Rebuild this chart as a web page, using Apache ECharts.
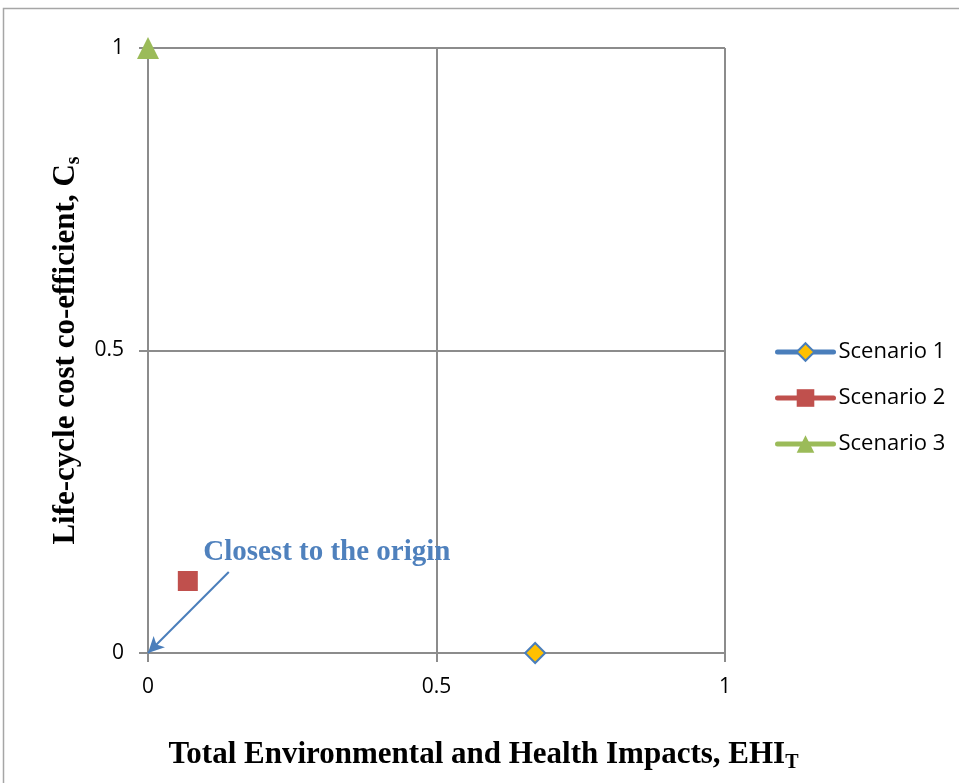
<!DOCTYPE html>
<html>
<head>
<meta charset="utf-8">
<script src="https://cdn.jsdelivr.net/npm/echarts@6/dist/echarts.min.js"></script>
<style>
html, body { margin: 0; padding: 0; background: #fff; overflow: hidden; }
#chart { width: 959px; height: 783px; }
</style>
</head>
<body>
<div id="chart"></div>
<script>
// 数据
var seriesNames = ['Scenario 1', 'Scenario 2', 'Scenario 3'];
var scenario1 = [[0.671, 0]];
var scenario2 = [[0.069, 0.119]];
var scenario3 = [[0, 1]];
var arrowFrom = [0.14, 0.134];
var arrowTo = [0, 0];
var axisTicks = [0, 0.5, 1];

var myChart = echarts.init(document.getElementById('chart'));

var gridColor = '#8c8c8c';
var labelFont = '"Open Sans", "Liberation Sans", sans-serif';
var titleFont = '"Liberation Serif", "DejaVu Serif", serif';

function axisBase() {
    return {
        type: 'value',
        min: axisTicks[0],
        max: axisTicks[axisTicks.length - 1],
        interval: axisTicks[1] - axisTicks[0],
        axisLine: { show: true, lineStyle: { color: gridColor, width: 2 } },
        axisTick: { show: true, length: 9, lineStyle: { color: gridColor, width: 2 } },
        splitLine: { show: true, lineStyle: { color: gridColor, width: 2 } },
        axisLabel: {
            color: '#000',
            fontFamily: labelFont,
            fontSize: 21,
            formatter: function (v) { return String(v); }
        }
    };
}

var xAxis = axisBase();
xAxis.axisLabel.margin = 24;
xAxis.name = '{t|Total Environmental and Health Impacts, EHI}{s|T}';
xAxis.nameLocation = 'middle';
xAxis.nameGap = 84;
xAxis.nameTextStyle = {
    padding: [0, 0, 0, 94],
    rich: {
        t: { fontFamily: titleFont, fontWeight: 'bold', fontSize: 31, color: '#000' },
        s: { fontFamily: titleFont, fontWeight: 'bold', fontSize: 20, color: '#000', padding: [16, 0, 0, 0] }
    }
};

var yAxis = axisBase();
yAxis.axisLabel.margin = 24;
yAxis.name = '{t|Life-cycle cost co-efficient, C}{s|s}';
yAxis.nameLocation = 'middle';
yAxis.nameRotate = 90;
yAxis.nameGap = 64;
yAxis.nameTextStyle = {
    rich: {
        t: { fontFamily: titleFont, fontWeight: 'bold', fontSize: 31, color: '#000' },
        s: { fontFamily: titleFont, fontWeight: 'bold', fontSize: 20, color: '#000', padding: [16, 0, 0, 0] }
    }
};

var option = {
    animation: false,
    backgroundColor: '#fff',
    grid: { left: 148, right: 234, top: 48, bottom: 130, outerBoundsMode: 'none', containLabel: false },
    graphic: [{
        type: 'rect',
        shape: { x: 3.5, y: 8.5, width: 1000, height: 1000 },
        style: { fill: 'none', stroke: '#a6a6a6', lineWidth: 1.5 },
        silent: true
    }],
    legend: {
        orient: 'vertical',
        left: 770,
        top: 336,
        itemGap: 24,
        itemWidth: 56,
        itemHeight: 22,
        data: seriesNames,
        lineStyle: { width: 5, cap: 'round' },
        textStyle: { fontFamily: labelFont, fontSize: 22, color: '#000' }
    },
    xAxis: xAxis,
    yAxis: yAxis,
    series: [{
        name: seriesNames[0],
        type: 'line',
        data: scenario1,
        symbol: 'diamond',
        symbolSize: 20,
        clip: false,
        lineStyle: { color: '#4a7ebb', width: 5 },
        itemStyle: { color: '#ffc000', borderColor: '#4a7ebb', borderWidth: 2 },
        markLine: {
            silent: true,
            symbol: ['none', 'arrow'],
            symbolSize: [12, 16],
            label: { show: false },
            lineStyle: { color: '#4a7ebb', width: 2, type: 'solid' },
            data: [[{ coord: arrowFrom }, { coord: arrowTo }]]
        }
    }, {
        name: seriesNames[1],
        type: 'line',
        data: scenario2,
        symbol: 'rect',
        symbolSize: 20,
        clip: false,
        lineStyle: { color: '#c0504d', width: 5 },
        itemStyle: { color: '#c0504d', borderColor: '#c0504d', borderWidth: 0 },
        markPoint: {
            silent: true,
            symbol: 'rect',
            symbolSize: 0,
            data: [{
                coord: [0.087, 0.166],
                label: {
                    show: true,
                    position: 'right',
                    formatter: 'Closest to the origin',
                    fontFamily: titleFont,
                    fontWeight: 'bold',
                    fontSize: 29,
                    color: '#4f81bd'
                }
            }]
        }
    }, {
        name: seriesNames[2],
        type: 'line',
        data: scenario3,
        symbol: 'triangle',
        symbolSize: 22,
        clip: false,
        lineStyle: { color: '#9bbb59', width: 5 },
        itemStyle: { color: '#9bbb59', borderColor: '#9bbb59', borderWidth: 0 }
    }]
};

myChart.setOption(option);
</script>
</body>
</html>
